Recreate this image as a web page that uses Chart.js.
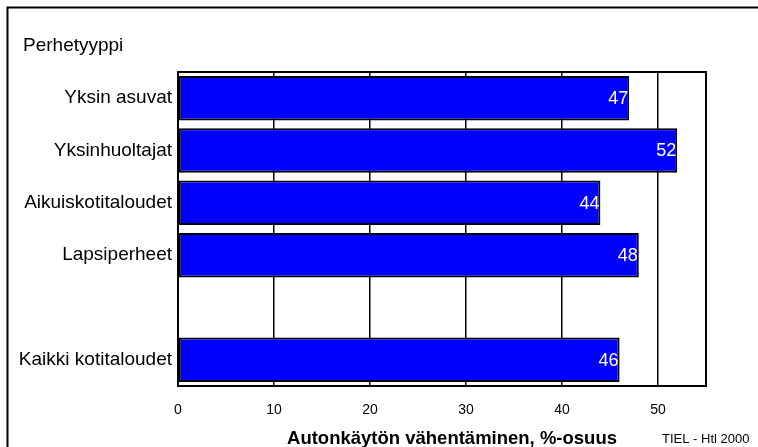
<!DOCTYPE html>
<html>
<head>
<meta charset="utf-8">
<script src="https://cdn.jsdelivr.net/npm/chart.js@4.4.1/dist/chart.umd.min.js"></script>
<style>
  html, body { margin: 0; padding: 0; background: #fff; }
  #wrap { width: 758px; height: 447px; position: relative; }
</style>
</head>
<body>
<div id="wrap"><canvas id="c" width="758" height="447"></canvas></div>
<script>
// Household types (the empty slot separates the groups from the total)
const categories = ['Yksin asuvat', 'Yksinhuoltajat', 'Aikuiskotitaloudet', 'Lapsiperheet', '', 'Kaikki kotitaloudet'];
// Share reducing car use, %
const shares = [47, 52, 44, 48, null, 46];
// Value axis ticks
const xTicks = [0, 10, 20, 30, 40, 50];
const axisTitle = 'Autonkäytön vähentäminen, %-osuus';
const groupTitle = 'Perhetyyppi';
const sourceNote = 'TIEL - Htl 2000';

const FONT = "'Liberation Sans', Arial, sans-serif";

// Frame, headings, note and in-bar value labels
const decorations = {
  id: 'decorations',
  afterDatasetsDraw(chart) {
    const { ctx } = chart;
    const meta = chart.getDatasetMeta(0);
    ctx.save();
    ctx.fillStyle = '#fff';
    ctx.font = '18px ' + FONT;
    ctx.textAlign = 'right';
    ctx.textBaseline = 'middle';
    meta.data.forEach((bar, i) => {
      const v = shares[i];
      if (v === null || v === undefined) return;
      ctx.fillText(String(v), bar.x - 1, bar.y + 1);
    });
    ctx.restore();
  },
  afterDraw(chart) {
    const { ctx, chartArea: a, width, height } = chart;
    ctx.save();
    // plot frame
    ctx.strokeStyle = '#000';
    ctx.lineWidth = 2;
    ctx.strokeRect(a.left, a.top, a.right - a.left, a.bottom - a.top);
    // outer frame (left and top edges)
    ctx.beginPath();
    ctx.moveTo(7.5, height);
    ctx.lineTo(7.5, 7.5);
    ctx.lineTo(width, 7.5);
    ctx.stroke();
    // headings
    ctx.fillStyle = '#000';
    ctx.textBaseline = 'middle';
    ctx.textAlign = 'left';
    ctx.font = '19px ' + FONT;
    ctx.fillText(groupTitle, 23, 46);
    ctx.textAlign = 'center';
    ctx.font = 'bold 18.5px ' + FONT;
    ctx.fillText(axisTitle, 452, 439);
    ctx.textAlign = 'left';
    ctx.font = '13px ' + FONT;
    ctx.fillText(sourceNote, 662, 439);
    ctx.restore();
  }
};

new Chart(document.getElementById('c').getContext('2d'), {
  type: 'bar',
  data: {
    labels: categories,
    datasets: [{
      data: shares,
      backgroundColor: '#0000ff',
      borderColor: '#000',
      borderWidth: 2,
      borderSkipped: false,
      barPercentage: 0.85,
      categoryPercentage: 1
    }]
  },
  options: {
    indexAxis: 'y',
    responsive: false,
    animation: false,
    layout: { padding: { left: 0, right: 52, top: 72, bottom: 0 } },
    plugins: { legend: { display: false }, tooltip: { enabled: false } },
    scales: {
      x: {
        min: 0,
        max: 55,
        afterBuildTicks: s => { s.ticks = xTicks.map(v => ({ value: v })); },
        afterFit: s => { s.height = 61; },
        grid: { color: '#000', lineWidth: 1.5, drawTicks: false },
        border: { display: true, color: '#000', width: 2 },
        ticks: { color: '#000', font: { family: FONT, size: 14 }, padding: 16 }
      },
      y: {
        afterFit: s => { s.width = 178; },
        grid: { display: false, drawTicks: false },
        border: { display: true, color: '#000', width: 2 },
        ticks: { color: '#000', font: { family: FONT, size: 19 }, padding: 6 }
      }
    }
  },
  plugins: [decorations]
});
</script>
</body>
</html>
